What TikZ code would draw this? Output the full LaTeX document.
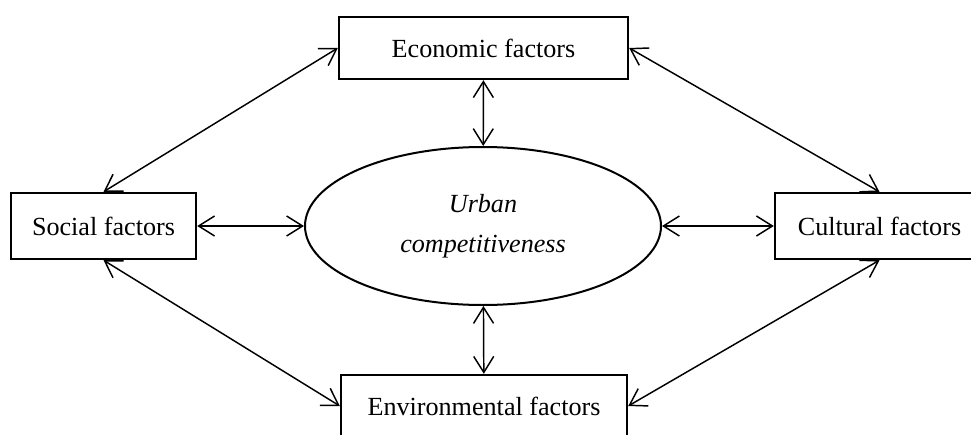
\documentclass[tikz,border=0pt]{standalone}
\usepackage{fontspec}
\setmainfont{Liberation Serif}
\usetikzlibrary{arrows.meta,shapes.geometric}

\tikzset{
	factor/.style={draw,line width=1.8pt,inner sep=0pt,minimum height=46.5pt,text depth=-4pt},
	core/.style={ellipse,draw,line width=1.5pt,inner sep=0pt,align=center,
		minimum width=267pt,minimum height=118.5pt}
}

\begin{document}
\begin{tikzpicture}[x=0.75pt,y=-0.75pt,>={Straight Barb[length=12pt,width=15pt]},
	line width=1.1pt,font=\fontsize{19.6}{30}\selectfont]
	\useasboundingbox (0,0) rectangle (971,435);
	\path
	(483,226)		node[core] (U) {\itshape Urban\\\itshape competitiveness}
	(483.5,48)		node[factor,minimum width=216.75pt] (E) {Economic factors}
	(103.5,226)		node[factor,minimum width=138.75pt,minimum height=49.5pt] (S) {Social factors}
	(879.5,226)		node[factor,minimum width=156.75pt,minimum height=49.5pt] (C) {Cultural factors}
	(484,406)		node[factor,minimum width=214.5pt] (V) {Environmental factors};
	% links to the centre
	\draw[<->] (E)--(U);
	\draw[<->] (S)--(U);
	\draw[<->] (C)--(U);
	\draw[<->] (V)--(U);
	% links around the outside
	\draw[<->] (S.north)--(E.west);
	\draw[<->] (E.east)--(C.north);
	\draw[<->] (C.south)--(V.east);
	\draw[<->] (V.west)--(S.south);
\end{tikzpicture}
\end{document}
